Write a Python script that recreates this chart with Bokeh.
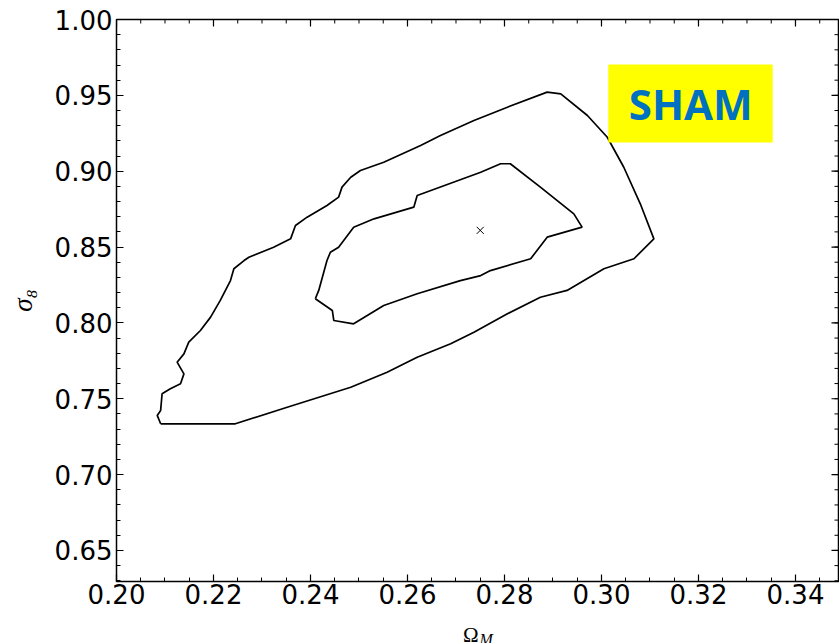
import numpy as np
from bokeh.plotting import figure
from bokeh.layouts import column
from bokeh.models import Range1d, LinearAxis, FixedTicker, PrintfTickFormatter, Label
from bokeh.core.properties import value
from bokeh.embed import file_html
from bokeh.resources import INLINE

# 1-sigma / 2-sigma confidence contours in the (Omega_M, sigma_8) plane
outer_x = [0.2091, 0.2245, 0.2352, 0.2483, 0.2558, 0.2620, 0.2689, 0.2737,
           0.2806, 0.2874, 0.2929, 0.3005, 0.3067, 0.3108, 0.3080, 0.3046,
           0.3012, 0.2971, 0.2916, 0.2888, 0.2806, 0.2737, 0.2668, 0.2627,
           0.2551, 0.2503, 0.2483, 0.2465, 0.2458, 0.2434, 0.2393, 0.2369,
           0.2359, 0.2324, 0.2273, 0.2263, 0.2242, 0.2235, 0.2214, 0.2194,
           0.2173, 0.2149, 0.2139, 0.2125, 0.2139, 0.2132, 0.2111, 0.2094,
           0.2091, 0.2084, 0.2091]
outer_y = [0.7335, 0.7335, 0.7444, 0.7576, 0.7675, 0.7774, 0.7862, 0.7939,
           0.8060, 0.8169, 0.8214, 0.8357, 0.8423, 0.8554, 0.8785, 0.9026,
           0.9224, 0.9367, 0.9510, 0.9521, 0.9422, 0.9334, 0.9235, 0.9169,
           0.9059, 0.9005, 0.8960, 0.8895, 0.8829, 0.8774, 0.8697, 0.8642,
           0.8554, 0.8499, 0.8433, 0.8411, 0.8357, 0.8279, 0.8148, 0.8038,
           0.7950, 0.7873, 0.7796, 0.7741, 0.7664, 0.7599, 0.7566, 0.7533,
           0.7423, 0.7390, 0.7335]

inner_x = [0.2410, 0.2417, 0.2434, 0.2441, 0.2458, 0.2489, 0.2531, 0.2613,
           0.2620, 0.2751, 0.2792, 0.2812, 0.2874, 0.2943, 0.2960, 0.2888,
           0.2854, 0.2771, 0.2751, 0.2709, 0.2620, 0.2551, 0.2489, 0.2448,
           0.2445, 0.2410]
inner_y = [0.8159, 0.8214, 0.8411, 0.8466, 0.8499, 0.8631, 0.8686, 0.8763,
           0.8840, 0.8993, 0.9049, 0.9049, 0.8895, 0.8719, 0.8631, 0.8565,
           0.8423, 0.8345, 0.8312, 0.8279, 0.8192, 0.8115, 0.7994, 0.8016,
           0.8082, 0.8159]

best_fit_x = [0.275]
best_fit_y = [0.861]

x_major_ticks = [0.20, 0.22, 0.24, 0.26, 0.28, 0.30, 0.32, 0.34]
y_major_ticks = [0.65, 0.70, 0.75, 0.80, 0.85, 0.90, 0.95, 1.00]
x_minor_ticks = [round(v, 3) for v in np.arange(0.20, 0.3501, 0.005)]
y_minor_ticks = [round(v, 2) for v in np.arange(0.63, 1.0001, 0.01)]

X_START, X_END = 0.20, 0.34887
Y_START, Y_END = 0.62953, 1.00

p = figure(width=839, height=614, output_backend="svg", toolbar_location=None,
           title=None,
           x_range=Range1d(X_START, X_END), y_range=Range1d(Y_START, Y_END),
           x_axis_location=None, y_axis_location=None,
           min_border_left=116, min_border_right=1, min_border_top=19,
           min_border_bottom=33)
p.background_fill_color = "white"
p.border_fill_color = "white"
p.xgrid.visible = False
p.ygrid.visible = False
p.outline_line_color = "black"
p.outline_line_width = 1.5


def style_axis(ax):
    ax.axis_line_color = None
    ax.major_tick_in = 7
    ax.major_tick_out = 0
    ax.minor_tick_in = 4
    ax.minor_tick_out = 0
    ax.major_tick_line_color = "black"
    ax.minor_tick_line_color = "black"
    ax.major_tick_line_width = 1.2
    ax.minor_tick_line_width = 1.0
    ax.major_label_text_font = "DejaVu Sans"
    ax.major_label_text_font_size = "26px"
    ax.major_label_text_color = "black"
    ax.formatter = PrintfTickFormatter(format="%.2f")


xb = LinearAxis(ticker=FixedTicker(ticks=x_major_ticks, minor_ticks=x_minor_ticks))
style_axis(xb)
xb.major_label_standoff = 2
p.add_layout(xb, "below")

yl = LinearAxis(ticker=FixedTicker(ticks=y_major_ticks, minor_ticks=y_minor_ticks))
style_axis(yl)
yl.major_label_standoff = 4
yl.axis_label = "σ₈"
yl.axis_label_text_font = "Liberation Serif"
yl.axis_label_text_font_style = "italic"
yl.axis_label_text_font_size = "27px"
yl.axis_label_text_color = "black"
yl.axis_label_standoff = 14
p.add_layout(yl, "left")

# inward ticks on the top and right edges of the frame
p.ray(x=x_major_ticks, y=[Y_END] * len(x_major_ticks), length=7,
      length_units="screen", angle=-np.pi / 2, line_color="black", line_width=1.2)
p.ray(x=x_minor_ticks, y=[Y_END] * len(x_minor_ticks), length=4,
      length_units="screen", angle=-np.pi / 2, line_color="black", line_width=1.0)
p.ray(x=[X_END] * len(y_major_ticks), y=y_major_ticks, length=7,
      length_units="screen", angle=np.pi, line_color="black", line_width=1.2)
p.ray(x=[X_END] * len(y_minor_ticks), y=y_minor_ticks, length=4,
      length_units="screen", angle=np.pi, line_color="black", line_width=1.0)

# contours and best-fit point
p.line(outer_x, outer_y, line_color="black", line_width=1.7)
p.line(inner_x, inner_y, line_color="black", line_width=1.7)
p.scatter(best_fit_x, best_fit_y, marker="x", size=10, line_color="black",
          line_width=1.0)

# highlighted tag
p.quad(left=[0.3014], right=[0.3353], bottom=[0.9189], top=[0.9703],
       fill_color="#FFFF00", line_color=None)
p.add_layout(Label(x=0.3184, y=0.9446, text="SHAM", text_align="center",
                   text_baseline="middle", text_font="Open Sans",
                   text_font_style="bold", text_font_size="42px",
                   text_color="#0070C0"))

# x-axis title strip (its frame lines up with the main frame in the column)
q = figure(width=839, height=29, output_backend="svg", toolbar_location=None,
           title=None,
           x_range=Range1d(X_START, X_END),
           y_range=Range1d(0.58866, 0.60778),
           x_axis_location=None, y_axis_location=None, min_border=0)
q.outline_line_color = None
q.xgrid.visible = False
q.ygrid.visible = False
q.background_fill_color = "white"
q.border_fill_color = "white"
q.text(x=[0.27464], y=[0.59459], text=["Ω"], text_align="right",
       text_baseline="alphabetic", text_font=value("Liberation Serif"),
       text_font_size="21px", text_color="black")
q.text(x=[0.27485], y=[0.59130], text=["M"], text_align="left",
       text_baseline="alphabetic", text_font=value("Liberation Serif"),
       text_font_style="italic", text_font_size="16px", text_color="black")

layout = column(p, q, spacing=0)
open("out.html", "w").write(file_html(layout, INLINE))
